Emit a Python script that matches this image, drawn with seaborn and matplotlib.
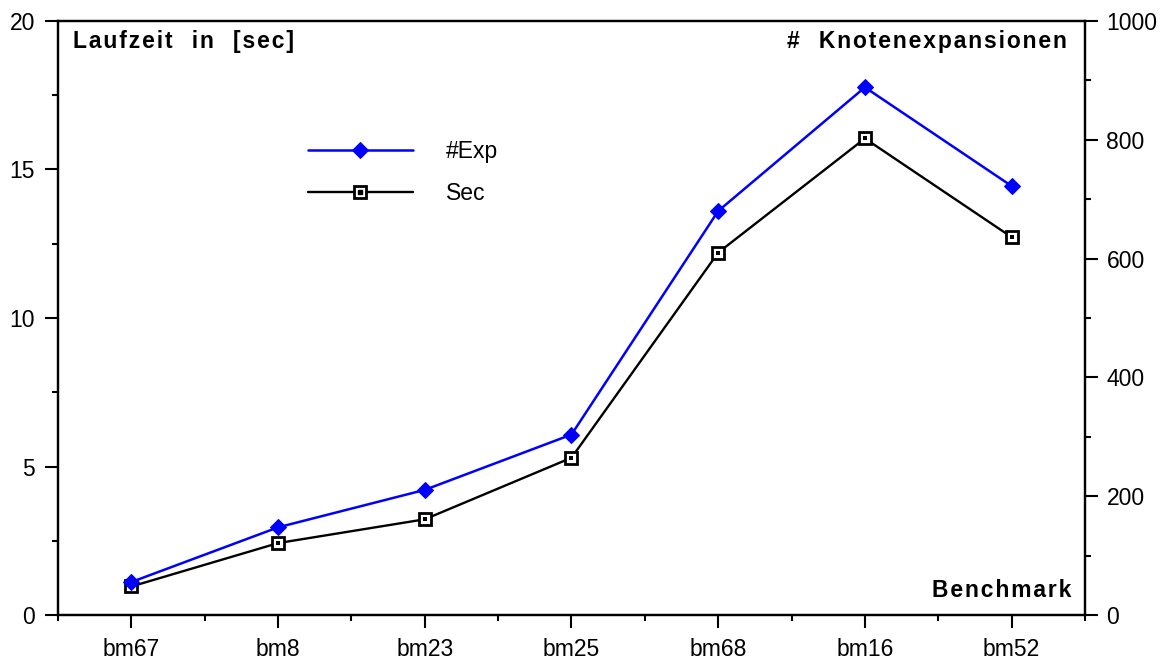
"""
Laufzeit und Knotenexpansionen je Benchmark (Doppelachsen-Liniendiagramm).
"""
import numpy as np
import pandas as pd
import matplotlib
matplotlib.use("Agg")
import matplotlib.pyplot as plt
from matplotlib.legend_handler import HandlerTuple
from matplotlib.ticker import MultipleLocator
import seaborn as sns

# data
benchmarks = ["bm67", "bm8", "bm23", "bm25", "bm68", "bm16", "bm52"]
sec_values = [0.97, 2.43, 3.23, 5.30, 12.2, 16.04, 12.72]
exp_values = [56, 148, 211, 304, 680, 888, 722]


def spaced(s, sep="\u200a"):
    # crude letter spacing, the bold labels in the original are tracked out
    return sep.join(s)


sns.set_style("ticks")
plt.rcParams['font.family'] = ['Liberation Sans', 'DejaVu Sans']
plt.rcParams['text.color'] = 'black'
plt.rcParams['xtick.color'] = 'black'
plt.rcParams['ytick.color'] = 'black'
plt.rcParams['axes.edgecolor'] = 'black'

df = pd.DataFrame({"idx": np.arange(len(benchmarks)), "Sec": sec_values, "Exp": exp_values})

fig = plt.figure(figsize=(11.65, 6.62), dpi=100)
ax = fig.add_axes([0.0498, 0.0705, 0.8815, 0.8982])
ax2 = ax.twinx()

# Sec on left axis: open squares with a dot inside
sns.lineplot(data=df, x="idx", y="Sec", ax=ax, color="black", linewidth=1.7,
             marker="s", markersize=8.5, markerfacecolor="white",
             markeredgecolor="black", markeredgewidth=2)
l_sec = ax.lines[-1]
sns.scatterplot(data=df, x="idx", y="Sec", ax=ax, color="black", marker="s",
                s=6, linewidth=0, zorder=5)
l_dot = plt.Line2D([], [], linestyle="none", marker="s", markersize=2.2,
                   color="black")

# #Exp on right axis: filled blue diamonds
sns.lineplot(data=df, x="idx", y="Exp", ax=ax2, color="#0000FF", linewidth=1.8,
             marker="D", markersize=8, markeredgecolor="#0000FF")
l_exp = ax2.lines[-1]

ax.set_xlim(-0.5, len(benchmarks) - 0.5)
ax.set_ylim(0, 20)
ax2.set_ylim(0, 1000)
ax.set_xticks(df["idx"])
ax.set_xticklabels(benchmarks)
ax.xaxis.set_minor_locator(MultipleLocator(1, offset=0.5))
ax.yaxis.set_major_locator(MultipleLocator(5))
ax.yaxis.set_minor_locator(MultipleLocator(2.5))
ax2.yaxis.set_major_locator(MultipleLocator(200))
ax2.yaxis.set_minor_locator(MultipleLocator(100))
ax.set_xlabel("")
ax.set_ylabel("")
ax2.set_ylabel("")

for a in (ax, ax2):
    for s in a.spines.values():
        s.set_visible(True)
        s.set_linewidth(1.6)
        s.set_color("black")
    a.tick_params(which="major", length=9.5, width=1.5, labelsize=16.5, color="black")
    a.tick_params(which="minor", length=4.5, width=1.5, color="black")
ax.tick_params(axis="y", pad=7)
ax.tick_params(axis="x", pad=7)
ax2.tick_params(axis="y", pad=6)

# labels inside the plot area
ax.text(0.0146, 0.985, "   ".join(spaced(w) for w in ["Laufzeit", "in", "[sec]"]),
        transform=ax.transAxes, ha="left", va="top", fontsize=16.5, fontweight="bold")
ax.text(0.982, 0.985, "#   " + spaced("Knotenexpansionen"), transform=ax.transAxes,
        ha="right", va="top", fontsize=16.5, fontweight="bold")
ax.text(0.987, 0.031, spaced("Benchmark"), transform=ax.transAxes,
        ha="right", va="baseline", fontsize=16.5, fontweight="bold")

leg = ax2.legend([l_exp, (l_sec, l_dot)], ["#Exp", "Sec"],
                 handler_map={tuple: HandlerTuple(ndivide=1)},
                 loc="upper left", bbox_to_anchor=(0.243, 0.799),
                 frameon=False, fontsize=16.5, handlelength=4.6,
                 handletextpad=1.45, labelspacing=0.82,
                 borderpad=0, borderaxespad=0)

fig.savefig("out.png", dpi=100)
